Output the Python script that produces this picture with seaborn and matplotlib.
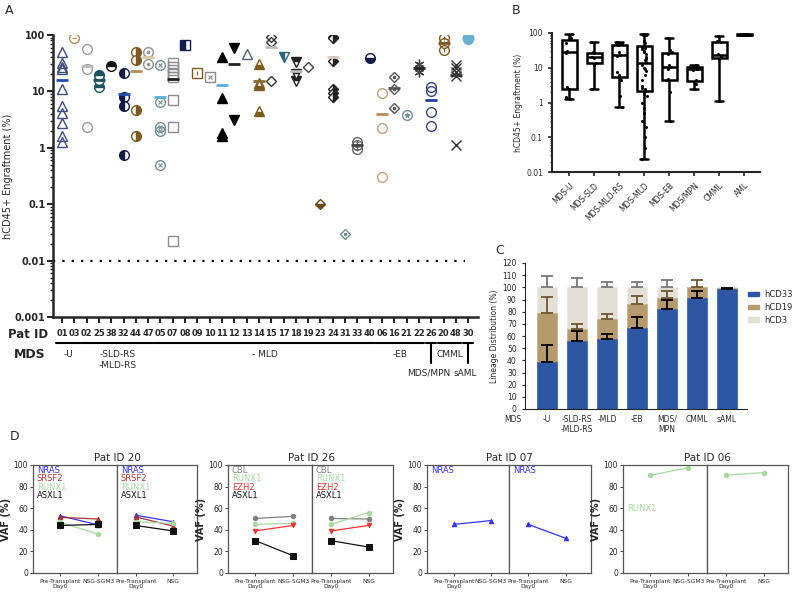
import numpy as np
import pandas as pd
import matplotlib
matplotlib.use('Agg')
import matplotlib.pyplot as plt
import matplotlib.transforms as mtransforms
from matplotlib.patches import Patch
import seaborn as sns

# ---------------- data ----------------
# panel A: engraftment per patient
pat_ids = ['01', '03', '02', '25', '38', '32', '44', '47', '05', '07', '08', '09', '10', '11',
           '12', '13', '14', '15', '17', '18', '19', '23', '24', '31', '33', '40', '06', '16',
           '21', '22', '26', '20', '48', '30']
pat_values = [
    [50, 32, 27, 25, 11, 5.5, 4.1, 2.75, 1.6, 1.25],  # 01
    [88],                                              # 03
    [56, 25, 2.3],                                     # 02
    [19.5, 16, 12],                                    # 25
    [28],                                              # 38
    [21, 8, 5.5, 0.75],                                # 32
    [50, 36, 4.7, 1.6],                                # 44
    [50, 31],                                          # 47
    [29, 6.5, 2.3, 2.0, 0.5],                          # 05
    [32, 27, 24, 20, 18, 7, 2.3, 0.022],               # 07
    [66],                                              # 08
    [21],                                              # 09
    [18],                                              # 10
    [40, 7.5, 1.8, 1.6],                               # 11
    [58, 3.1],                                         # 12
    [46],                                              # 13
    [30, 14, 13, 4.5],                                 # 14
    [92, 75, 15.5],                                    # 15
    [40],                                              # 17
    [33, 20, 15],                                      # 18
    [27],                                              # 19
    [0.1],                                             # 23
    [92, 88, 35, 11, 9.5, 8],                          # 24
    [0.03],                                            # 31
    [1.25, 1.1, 0.97],                                 # 33
    [39],                                              # 40
    [9.4, 2.2, 0.3],                                   # 06
    [18, 11, 5],                                       # 16
    [3.8],                                             # 21
    [31, 26, 22],                                      # 22
    [12, 10, 4.3, 2.4],                                # 26
    [88, 72, 54],                                      # 20
    [29, 26, 22, 19, 1.1],                             # 48
    [92, 88, 85],                                      # 30
]
pat_groups = [('-U', 0, 1), ('-SLD-RS\n-MLD-RS', 2, 7), ('- MLD', 8, 25), ('-EB', 26, 29),
              ('MDS/MPN', 30, 30), ('CMML', 31, 32), ('sAML', 33, 33)]

# panel B: engraftment by subtype
b_groups = ['MDS-U', 'MDS-SLD', 'MDS-MLD-RS', 'MDS-MLD', 'MDS-EB', 'MDS/MPN', 'CMML', 'AML']
b_values = [
    [1.3, 1.4, 2.4, 2.8, 27, 30, 50, 70, 88, 93],
    [2.4, 12, 14, 19, 20, 21, 27, 29, 55],
    [0.75, 1.5, 4.5, 6, 7.5, 22, 24, 28, 45, 50, 52, 55],
    [0.023, 0.05, 0.1, 0.2, 0.3, 0.5, 0.7, 1, 1.5, 1.8, 2.2, 2.4, 2.6, 3, 4.5, 6, 8, 9, 10,
     12, 15, 17, 18, 20, 25, 28, 30, 35, 38, 40, 50, 60, 85, 88, 90, 90, 92, 93, 93, 95],
    [0.3, 2, 4.3, 4.8, 9, 10.5, 12, 25, 28, 32, 70],
    [2.4, 3.5, 4.5, 8.5, 9.5, 10.5, 11, 12],
    [1.1, 18, 20, 22, 25, 55, 60, 82],
    [85, 88, 90, 92, 95],
]

# panel C: lineage distribution
c_labels = ['-U', '-SLD-RS\n-MLD-RS', '-MLD', '-EB', 'MDS/\nMPN', 'CMML', 'sAML']
cd33 = np.array([38.6, 56, 57.5, 66.5, 82, 91.5, 98.5])
cd19 = np.array([40.4, 10, 16.5, 19.5, 9, 8.5, 1])
cd3 = np.array([21, 34, 26, 14, 9, 0, 0.5])
sd33 = np.array([14.4, 8, 4.5, 9.5, 8, 5.5, 1])
sd19 = np.array([13, 4, 4, 7, 6, 6, 0])
sd3 = np.array([9, 8, 4, 4.5, 6, 0, 0])

# panel D: VAF per gene, [pre-transplant, engrafted]
d_titles = ['Pat ID 20', 'Pat ID 26', 'Pat ID 07', 'Pat ID 06']
d_genes = [['NRAS', 'SRSF2', 'RUNX1', 'ASXL1'], ['CBL', 'RUNX1', 'EZH2', 'ASXL1'], ['NRAS'], ['RUNX1']]
d_sgm3 = [[[53, 44.5], [51.5, 50], [47, 36], [44, 45]],
          [[50.5, 52.5], [45, 46], [39, 44], [30, 16]],
          [[45, 48.5]],
          [[90.5, 97.5]]]
d_nsg = [[[53.5, 47.5], [52, 43.5], [47.5, 46], [44, 39]],
         [[50.5, 50], [45, 56], [39, 44], [30, 24]],
         [[45, 32]],
         [[90.5, 93]]]
d_arms = [['Pre-Transplant\nDay0', 'NSG-SGM3'], ['Pre-Transplant\nDay0', 'NSG']]

# ---------------- styles ----------------
# (colour, marker, fillstyle, inner marker, mean bar colour)
pat_styles = [
    ('#3f4c7c', '^', 'none', None, '#1f4fa8'),
    ('#b38d55', 'o', 'none', '_', None),
    ('#9a9a9a', 'o', 'none', None, '#bbbbbb'),
    ('#1d5260', 'o', 'top', None, None),
    ('#111111', 'o', 'top', None, None),
    ('#141c48', 'o', 'left', None, '#1f4fa8'),
    ('#7d5a20', 'o', 'right', None, '#b38d55'),
    ('#909090', 'o', 'none', '.', '#d8c8a8'),
    ('#6f8f95', 'o', 'none', 'x', '#5aaed0'),
    ('#8c8c8c', 's', 'none', None, '#222222'),
    ('#141c48', 's', 'left', None, None),
    ('#7d5a20', 's', 'none', '|', None),
    ('#8a8a8a', 's', 'none', 'x', None),
    ('#000000', '^', 'full', None, '#5aaed0'),
    ('#000000', 'v', 'full', None, '#222222'),
    ('#55607f', '^', 'none', None, None),
    ('#7d5a20', '^', 'bottom', None, '#8a6a30'),
    ('#333333', 'D', 'none', None, '#bbbbbb'),
    ('#2c6676', 'v', 'left', None, None),
    ('#222222', 'v', 'top', None, '#bbbbbb'),
    ('#444444', 'D', 'none', None, None),
    ('#6a4a1a', 'D', 'bottom', None, None),
    ('#222222', 'D', 'right', None, '#d8d0c0'),
    ('#6f8f95', 'D', 'none', '.', None),
    ('#666666', 'o', 'none', '+', '#444444'),
    ('#141c48', 'o', 'bottom', None, None),
    ('#bfa27a', 'o', 'none', None, '#b38d55'),
    ('#555555', 'D', 'none', '.', None),
    ('#6f8f95', 'o', 'none', '*', None),
    ('#444444', (6, 2, 0), 'none', None, '#222222'),
    ('#34437a', 'o', 'none', None, '#1f3f98'),
    ('#7d5a20', 'o', 'none', '|', None),
    ('#333333', 'x', 'none', None, None),
    ('#6aafd2', 'o', 'full', None, None),
]
gene_colors = {'NRAS': '#3333ff', 'SRSF2': '#a83232', 'RUNX1': '#a6d9a0',
               'ASXL1': '#111111', 'CBL': '#808080', 'EZH2': '#ee3333'}
gene_markers = {'NRAS': '^', 'SRSF2': '^', 'RUNX1': 'o', 'ASXL1': 's', 'CBL': 'o', 'EZH2': 'v'}

sns.set_style('ticks')
plt.rcParams['font.family'] = ['DejaVu Sans']

W, H = 800, 596


def rect(l, t, r, b):
    return [l / W, 1 - b / H, (r - l) / W, (b - t) / H]


def ftext(x, y, s, **kw):
    fig.text(x / W, 1 - y / H, s, **kw)


fig = plt.figure(figsize=(8, 5.96), dpi=100)

# ---------------- panel A ----------------
axA = fig.add_axes(rect(53, 35, 478, 317))
axA.set_yscale('log')
for i, vals in enumerate(pat_values):
    color, marker, fill, inner, barc = pat_styles[i]
    xs = np.full(len(vals), i)
    ms = 5.5 if marker == 'D' else 7
    mfc = 'none' if fill == 'none' else color
    axA.plot(xs, vals, ls='none', marker=marker, fillstyle=fill, color=color, mfc=mfc,
             markerfacecoloralt='white', ms=ms, mew=1.0)
    if inner is not None:
        axA.plot(xs, vals, ls='none', marker=inner, color=color, ms=3.5, mew=0.8)
    if len(vals) > 1:
        axA.plot([i], [np.mean(vals)], marker='_', ms=9, mew=2,
                 color=barc if barc else color)
axA.axhline(0.01, xmin=0.0, xmax=0.97, color='black', ls=(0, (1, 3.2)), lw=1.6)
axA.set_xlim(-0.73, 33.8)
axA.set_ylim(0.001, 100)
axA.set_yticks([0.001, 0.01, 0.1, 1, 10, 100])
axA.set_yticklabels(['0.001', '0.01', '0.1', '1', '10', '100'], fontsize=7, fontweight='bold')
axA.set_xticks(range(len(pat_ids)))
axA.set_xticklabels(pat_ids, fontsize=6, fontweight='bold')
axA.tick_params(axis='both', width=1.5, length=4)
axA.tick_params(axis='y', which='minor', width=1, length=2.5, pad=1)
axA.tick_params(axis='y', which='major', pad=1.5)
axA.tick_params(axis='x', pad=5)
for s in ['top', 'right']:
    axA.spines[s].set_visible(False)
for s in ['left', 'bottom']:
    axA.spines[s].set_linewidth(1.8)
axA.set_ylabel('hCD45+ Engraftment (%)', fontsize=7, labelpad=1)

trA = mtransforms.blended_transform_factory(axA.transData, axA.transAxes)
yl, yt = -0.092, -0.163
for label, s, e in pat_groups:
    if s == e:
        axA.plot([s - 0.4, s + 0.4], [yl, yl], color='black', lw=1.5, transform=trA, clip_on=False)
        axA.plot([s, s], [yl, yt], color='black', lw=1.5, transform=trA, clip_on=False)
        axA.text(s - 0.2, -0.2, label, transform=trA, ha='center', va='center', fontsize=6.5)
    else:
        axA.plot([s - 0.45, e + 0.45], [yl, yl], color='black', lw=1.5, transform=trA, clip_on=False)
        axA.text((s + e) / 2, -0.118, label, transform=trA, ha='center', va='top',
                 fontsize=6.5, linespacing=1.3)
ftext(28, 334, 'Pat ID', fontsize=8.5, fontweight='bold', ha='center', va='center')
ftext(30, 354, 'MDS', fontsize=9, fontweight='bold', ha='center', va='center')

# ---------------- panel B ----------------
dfB = pd.DataFrame({'group': np.repeat(b_groups, [len(v) for v in b_values]),
                    'value': np.concatenate(b_values)})
axB = fig.add_axes(rect(552, 33, 760, 172))
sns.boxplot(data=dfB, x='group', y='value', order=b_groups, whis=(0, 100), color='white',
            linecolor='black', linewidth=1.8, width=0.6, fliersize=0, log_scale=True, ax=axB)
sns.stripplot(data=dfB, x='group', y='value', order=b_groups, color='black', size=2.2,
              jitter=0.12, log_scale=True, ax=axB)
axB.set_xlim(-0.68, 7.64)
axB.set_ylim(0.01, 100)
axB.set_yticks([0.01, 0.1, 1, 10, 100])
axB.set_yticklabels(['0.01', '0.1', '1', '10', '100'], fontsize=5.5)
axB.set_xticks(range(len(b_groups)))
axB.set_xticklabels(b_groups, rotation=45, ha='right', rotation_mode='anchor', fontsize=5.5)
axB.set_xlabel('')
axB.set_ylabel('hCD45+ Engraftment (%)', fontsize=5.5, labelpad=2)
axB.tick_params(axis='both', width=1.2, length=3)
axB.tick_params(axis='y', which='minor', width=0.8, length=1.8)
for s in ['top', 'right']:
    axB.spines[s].set_visible(False)
for s in ['left', 'bottom']:
    axB.spines[s].set_linewidth(1.5)

# ---------------- panel C ----------------
axC = fig.add_axes(rect(525, 263, 747, 409))
col33, col19, col3 = '#2d57a4', '#b59a6e', '#e4dfd4'
sns.barplot(x=c_labels, y=cd33 + cd19 + cd3, color=col3, saturation=1, width=0.67,
            edgecolor='#eeeae2', linewidth=0.6, ax=axC)
sns.barplot(x=c_labels, y=cd33 + cd19, color=col19, saturation=1, width=0.67,
            edgecolor='#c9b28c', linewidth=0.6, ax=axC)
sns.barplot(x=c_labels, y=cd33, color=col33, saturation=1, width=0.67,
            edgecolor='#3f6cc0', linewidth=0.6, ax=axC)
for tops, sd, ec in [(cd33, sd33, 'black'), (cd33 + cd19, sd19, '#6e5530'),
                     (cd33 + cd19 + cd3, sd3, '#777777')]:
    idx = np.where(sd > 0)[0]
    axC.errorbar(idx, tops[idx], yerr=[np.zeros(len(idx)), sd[idx]], fmt='none', ecolor=ec,
                 elinewidth=1.3, capsize=4, capthick=1.3)
axC.set_xlim(-0.73, 6.67)
axC.set_ylim(0, 120)
axC.set_yticks(range(0, 121, 10))
axC.tick_params(axis='y', labelsize=5.5, length=2.5, width=0.8)
axC.tick_params(axis='x', labelsize=5.5, length=0, pad=4)
axC.set_ylabel('Lineage Distribution (%)', fontsize=5.5, labelpad=2)
for s in ['top', 'right']:
    axC.spines[s].set_visible(False)
ftext(513, 420, 'MDS', fontsize=5.5, ha='center', va='center')
handles = [Patch(color=col33), Patch(color=col19), Patch(color=col3)]
fig.legend(handles, ['hCD33', 'hCD19', 'hCD3'], loc='upper left',
           bbox_to_anchor=(743 / W, 1 - 285 / H), frameon=False, fontsize=6,
           handlelength=1.3, handleheight=0.45, handletextpad=0.6, labelspacing=0.45,
           borderaxespad=0.2)

# ---------------- panel D ----------------
d_boxes = [(33, 117, 197), (228, 312, 393), (427, 509, 591), (623, 707, 788)]
d_label_top = [95, 95, 95, 60]
d_label_both = [True, True, True, False]
for p, (l, m, r) in enumerate(d_boxes):
    for k, (x0, x1) in enumerate([(l, m), (m, r)]):
        ax = fig.add_axes(rect(x0, 465, x1, 573))
        series = d_sgm3[p] if k == 0 else d_nsg[p]
        for g, gene in enumerate(d_genes[p]):
            ms = 3.8 if gene == 'ASXL1' else 3.2
            sns.lineplot(x=[0, 1], y=series[g], color=gene_colors[gene], marker=gene_markers[gene],
                         markersize=ms, markeredgecolor=gene_colors[gene], linewidth=0.9, ax=ax)
            if k == 0 or d_label_both[p]:
                ax.text(-0.62 if k == 0 else -0.4, d_label_top[p] - 7.7 * g, gene,
                        color=gene_colors[gene], fontsize=6, va='center', ha='left')
        ax.set_ylim(0, 100)
        ax.set_xlim((-0.72, 1.5) if k == 0 else (-0.5, 1.65))
        ax.set_xticks([0, 1])
        ax.set_xticklabels(d_arms[k], fontsize=4.2)
        ax.tick_params(axis='x', length=2, width=0.6, pad=2)
        if k == 0:
            ax.set_yticks(range(0, 101, 20))
            ax.tick_params(axis='y', labelsize=5.5, length=2, width=0.6, pad=1.5)
            ax.set_ylabel('VAF (%)', fontsize=7, fontweight='bold', labelpad=2)
        else:
            ax.set_yticks([])
            ax.set_ylabel('')
        for s in ax.spines.values():
            s.set_color('#555555')
            s.set_linewidth(0.9)
    ftext(m, 458, d_titles[p], fontsize=7.5, ha='center', va='center')

# panel letters
ftext(9, 10, 'A', fontsize=9, va='center', ha='center')
ftext(516, 10, 'B', fontsize=9, va='center', ha='center')
ftext(500, 250, 'C', fontsize=9, va='center', ha='center')
ftext(15, 437, 'D', fontsize=9, va='center', ha='center')

fig.savefig('out.png', dpi=100)
